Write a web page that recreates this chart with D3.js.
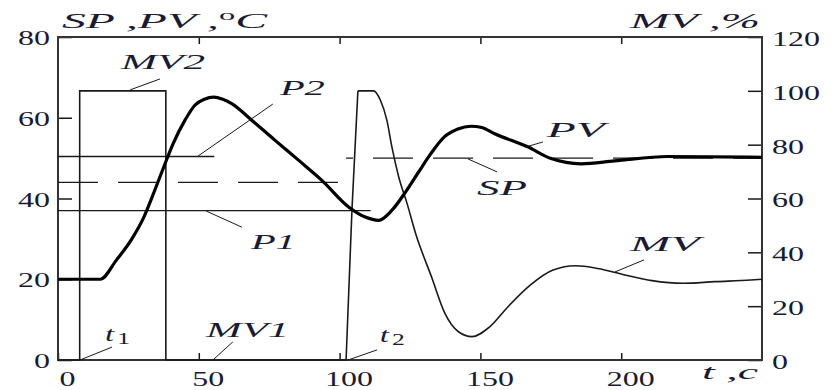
<!DOCTYPE html>
<html>
<head>
<meta charset="utf-8">
<script src="https://cdn.jsdelivr.net/npm/d3@7"></script>
<style>
    body { margin: 0; background: #fff; }
    svg { display: block; }
    .label { font-family: "Liberation Serif", "Times New Roman", serif; font-style: italic; fill: #1a1a33; }
    .num { font-family: "Liberation Serif", "Times New Roman", serif; fill: #1a1a33; font-size: 20px; }
</style>
</head>
<body>
<div id="chart"></div>
<script>
// process value PV, degC (left axis)
const pvTime = [0, 15, 20.8, 26.4, 30.5, 34.4, 38, 40.9, 45.1, 48.6, 52, 55.2, 58.5, 61.7, 68.8, 77.1, 85.4, 93.7, 103.2, 109.1, 113.9, 118.6, 123.4, 128, 132.4, 137.1, 142, 146.6, 150.5, 154.9, 166.8, 175.1, 185.8, 197.6, 216.6, 250];
const pvValue = [20, 20, 24.8, 30.2, 35.4, 42.1, 48.6, 53.6, 59.4, 63.1, 64.6, 65.1, 64.6, 63.5, 59.4, 54.4, 49.5, 44.5, 37.9, 35.4, 34.6, 37.1, 41.6, 46.5, 51.1, 55.2, 57.2, 57.9, 57.6, 56.1, 52.8, 49.9, 48.6, 49.3, 50.4, 50.2];

// manipulated value MV, % (right axis): relay test part, then controller part
const mvStepTime = [0, 7.7, 7.7, 38.3, 38.3, 102.3, 104.4, 106.5];
const mvStepValue = [0, 0, 100, 100, 0, 0, 56, 100];
const mvTime = [106.5, 112, 114.5, 116.8, 118.6, 121, 124, 127, 132.6, 137.4, 142.2, 147, 153.4, 159.8, 167.8, 175.8, 183.8, 191.7, 201.3, 210.9, 222, 233.3, 246, 250];
const mvValue = [100, 100, 96.5, 89, 79, 68, 58, 47, 31, 17.3, 10.5, 8.7, 12.4, 19.8, 27.9, 33.4, 35, 34, 31.6, 29.5, 28.5, 29.1, 29.7, 30];

// set point and relay levels
const spTime = [0, 102.3, 250];
const spValue = [44, 50];
const spDashShift = [0, 33];
const p1Level = 37, p1End = 111;
const p2Level = 50.4, p2End = 55.5;

const xTicks = [0, 50, 100, 150, 200];
const yLeftTicks = [0, 20, 40, 60, 80];
const yRightTicks = [0, 20, 40, 60, 80, 100, 120];

// annotations in data units (t, left-axis value)
const notes = [
    { text: "MV2", t: 22.4, v: 72.1, w: 84, from: [36.2, 69.6], to: [25.6, 66.9] },
    { text: "P2", t: 78.8, v: 65.6, w: 45, from: [76.3, 63.4], to: [49.7, 50.5] },
    { text: "P1", t: 68.5, v: 27.5, w: 45, from: [65.3, 32.9], to: [52.6, 36.9] },
    { text: "PV", t: 173.6, v: 55.2, w: 58, from: [172.2, 54.0], to: [165.8, 52.7] },
    { text: "SP", t: 148.8, v: 40.9, w: 50, from: [155.9, 46.6], to: [145.6, 49.8] },
    { text: "MV", t: 203.1, v: 27.0, w: 70, from: [208.1, 24.8], to: [197.8, 21.8] },
    { text: "MV1", t: 52.6, v: 5.7, w: 83, from: [62.1, 4.5], to: [55, 0] }
];
const subNotes = [
    { main: "t", sub: "1", t: 16.7, v: 4.8, from: [19.2, 3.2], to: [7.8, 0] },
    { main: "t", sub: "2", t: 114.3, v: 4.4, from: [113.3, 2.5], to: [103, 0] }
];

const width = 832, height = 390;
const margin = { top: 37, right: 70, bottom: 30, left: 58 };
const ink = "#1a1a1a";

const svg = d3.select("#chart").append("svg")
    .attr("width", width)
    .attr("height", height);

const x = d3.scaleLinear().domain([0, 250]).range([margin.left, width - margin.right]);
const yL = d3.scaleLinear().domain([0, 80]).range([height - margin.bottom, margin.top]);
const yR = d3.scaleLinear().domain([0, 120]).range([height - margin.bottom, margin.top]);

const sx = 1.6; // the picture's glyphs are stretched sideways

// axes, ticks pointing inward
function styleAxis(g) {
    g.select(".domain").remove();
    g.selectAll("line").attr("stroke", ink).attr("stroke-width", 1.5);
    g.selectAll("text").attr("class", "num").attr("font-size", null).attr("font-family", null).attr("fill", null);
}

svg.append("g")
    .attr("transform", `translate(0,${height - margin.bottom})`)
    .call(d3.axisBottom(x).tickValues(xTicks).tickSizeInner(-7).tickSizeOuter(0).tickPadding(12).tickFormat(d3.format("d")))
    .call(styleAxis)
    .call(g => g.selectAll("text").attr("transform", `scale(${sx},1)`).attr("x", 9 / sx));

svg.append("g")
    .attr("transform", `translate(0,${margin.top})`)
    .call(d3.axisTop(x).tickValues(xTicks.slice(1)).tickSizeInner(-7).tickSizeOuter(0).tickFormat(""))
    .call(styleAxis);

svg.append("g")
    .attr("transform", `translate(${margin.left},0)`)
    .call(d3.axisLeft(yL).tickValues(yLeftTicks).tickSizeInner(-14).tickSizeOuter(0).tickPadding(0).tickFormat(d3.format("d")))
    .call(styleAxis)
    .call(g => g.selectAll("text").attr("transform", `scale(${sx},1)`).attr("x", -8 / sx).attr("dy", "0.38em"));

svg.append("g")
    .attr("transform", `translate(${width - margin.right},0)`)
    .call(d3.axisRight(yR).tickValues(yRightTicks).tickSizeInner(-14).tickSizeOuter(0).tickPadding(0).tickFormat(d3.format("d")))
    .call(styleAxis)
    .call(g => g.selectAll("text").attr("transform", `scale(${sx},1)`).attr("x", 10 / sx).attr("dy", "0.42em"));

// frame
svg.append("rect")
    .attr("x", x(0)).attr("y", yL(80))
    .attr("width", x(250) - x(0)).attr("height", yL(0) - yL(80))
    .attr("fill", "none").attr("stroke", "#333").attr("stroke-width", 2);

// relay levels P1, P2
svg.append("line")
    .attr("x1", x(0)).attr("x2", x(p1End)).attr("y1", yL(p1Level)).attr("y2", yL(p1Level))
    .attr("stroke", ink).attr("stroke-width", 1.3);
svg.append("line")
    .attr("x1", x(0)).attr("x2", x(p2End)).attr("y1", yL(p2Level)).attr("y2", yL(p2Level))
    .attr("stroke", ink).attr("stroke-width", 1.3);

// set point, dashed, steps at t2
spValue.forEach((v, i) => {
    svg.append("line")
        .attr("x1", x(spTime[i])).attr("x2", x(spTime[i + 1])).attr("y1", yL(v)).attr("y2", yL(v))
        .attr("stroke", ink).attr("stroke-width", 1.3)
        .attr("stroke-dasharray", "40,20")
        .attr("stroke-dashoffset", spDashShift[i]);
});

// MV
const mvStepLine = d3.line().x((d, i) => x(mvStepTime[i])).y(d => yR(d));
svg.append("path")
    .attr("d", mvStepLine(mvStepValue))
    .attr("fill", "none").attr("stroke", ink).attr("stroke-width", 1.6);

const mvLine = d3.line().x((d, i) => x(mvTime[i])).y(d => yR(d)).curve(d3.curveMonotoneX);
svg.append("path")
    .attr("d", mvLine(mvValue))
    .attr("fill", "none").attr("stroke", ink).attr("stroke-width", 1.6);

// PV
const pvLine = d3.line().x((d, i) => x(pvTime[i])).y(d => yL(d)).curve(d3.curveMonotoneX);
svg.append("path")
    .attr("d", pvLine(pvValue))
    .attr("fill", "none").attr("stroke", "#000").attr("stroke-width", 3.2)
    .attr("stroke-linejoin", "round");

// annotations
notes.forEach(n => {
    svg.append("line")
        .attr("x1", x(n.from[0])).attr("y1", yL(n.from[1]))
        .attr("x2", x(n.to[0])).attr("y2", yL(n.to[1]))
        .attr("stroke", ink).attr("stroke-width", 1);
    svg.append("text")
        .attr("class", "label")
        .attr("x", x(n.t)).attr("y", yL(n.v))
        .attr("font-size", 22)
        .attr("textLength", n.w).attr("lengthAdjust", "spacingAndGlyphs")
        .text(n.text);
});

subNotes.forEach(n => {
    svg.append("line")
        .attr("x1", x(n.from[0])).attr("y1", yL(n.from[1]))
        .attr("x2", x(n.to[0])).attr("y2", yL(n.to[1]))
        .attr("stroke", ink).attr("stroke-width", 1);
    const t = svg.append("text")
        .attr("class", "label")
        .attr("transform", `translate(${x(n.t)},${yL(n.v)}) scale(1.5,1)`)
        .attr("font-size", 22)
        .text(n.main);
    t.append("tspan")
        .attr("dx", 2).attr("dy", 3)
        .attr("font-size", 17).style("font-style", "normal")
        .text(n.sub);
});

// axis titles
const leftTitle = svg.append("text")
    .attr("class", "label")
    .attr("x", 62).attr("y", 28)
    .attr("font-size", 22)
    .attr("textLength", 205).attr("lengthAdjust", "spacingAndGlyphs");
leftTitle.append("tspan").text("SP ,PV ,");
leftTitle.append("tspan").attr("dy", -8).attr("font-size", 15).style("font-style", "normal").text("o");
leftTitle.append("tspan").attr("dy", 8).text("C");

svg.append("text")
    .attr("class", "label")
    .attr("x", 630).attr("y", 28)
    .attr("font-size", 22)
    .attr("textLength", 130).attr("lengthAdjust", "spacingAndGlyphs")
    .text("MV ,%");

svg.append("text")
    .attr("class", "label")
    .attr("x", 702).attr("y", 379)
    .attr("font-size", 22)
    .attr("textLength", 56).attr("lengthAdjust", "spacingAndGlyphs")
    .text("t ,c");
</script>
</body>
</html>
